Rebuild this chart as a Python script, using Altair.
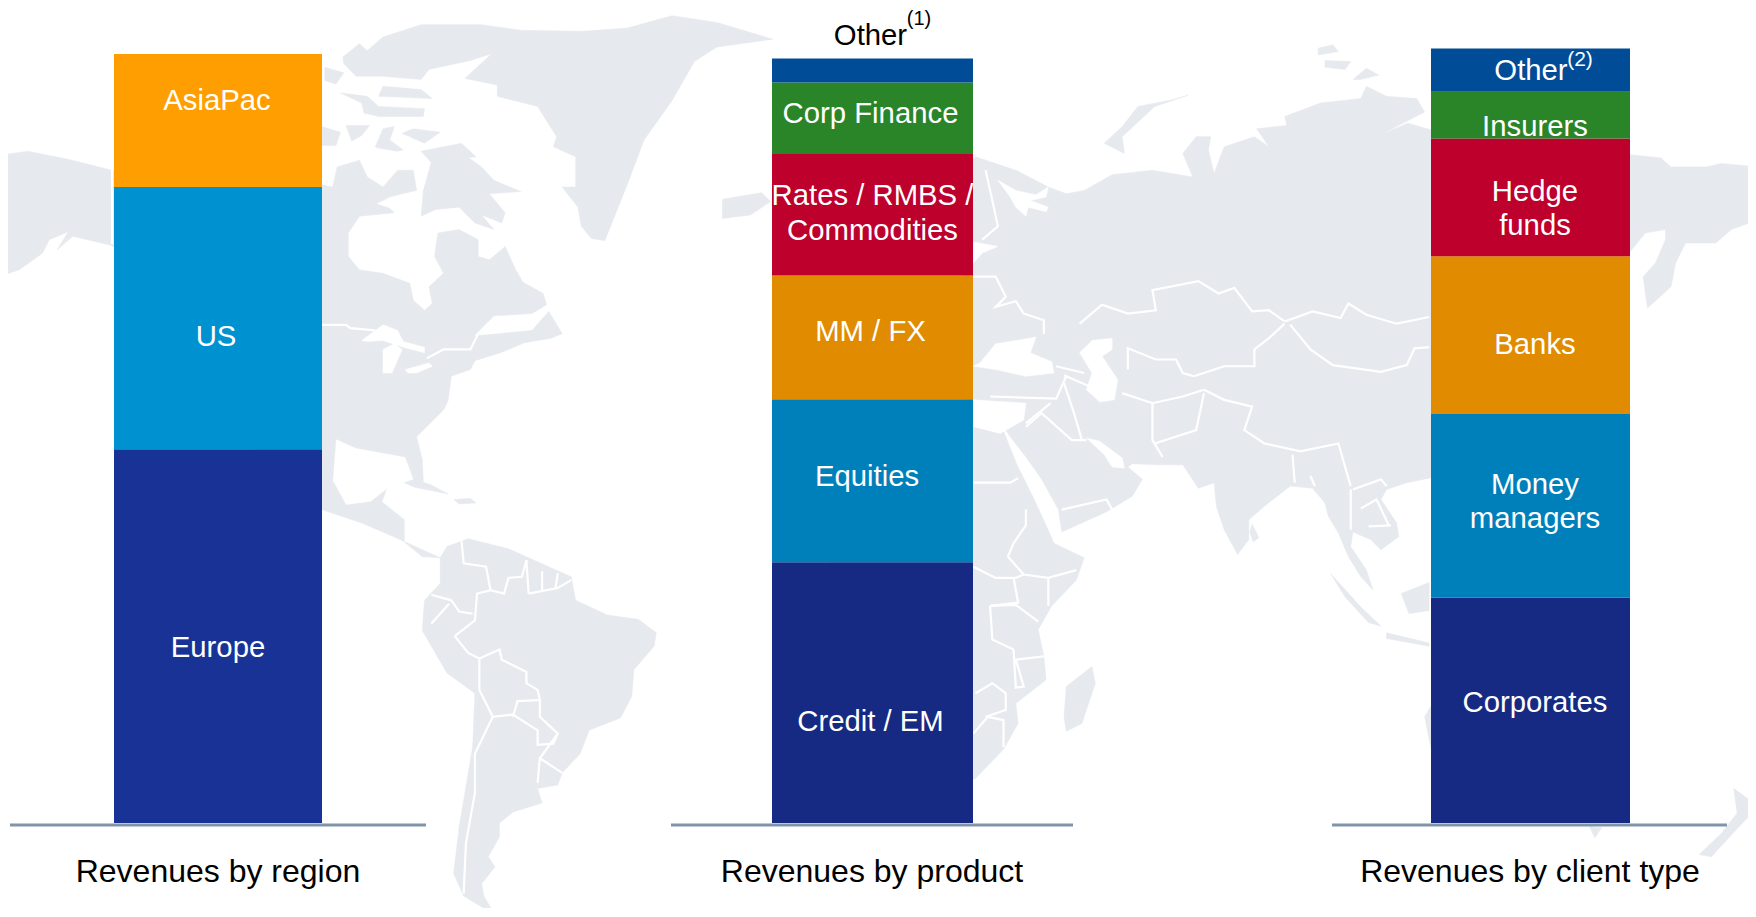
import altair as alt
import pandas as pd

# ---------- chart values ----------
region_names = ["Europe", "US", "AsiaPac"]
region_vals = [48.6, 34.1, 17.3]
region_cols = ["#193296", "#0091D0", "#FF9E00"]

product_names = ["Credit / EM", "Equities", "MM / FX", "Rates / RMBS / Commodities", "Corp Finance", "Other"]
product_vals = [33.9, 21.2, 16.1, 15.8, 9.3, 3.1]

client_names = ["Corporates", "Money managers", "Banks", "Hedge funds", "Insurers", "Other"]
client_vals = [29.3, 23.9, 20.5, 15.3, 6.1, 5.6]

shared_cols = ["#162A83", "#0080BA", "#E08B00", "#BE002C", "#2A8529", "#004C97"]
titles = ["Revenues by region", "Revenues by product", "Revenues by client type"]

# ---------- background map outline ----------
north_america = [(-10,140),(25,135),(60,142),(100,152),(140,150),(200,150),(287,165),(297,167),(301,149),(321,143),(328,158),(342,167),(355,152),(369,152),(372,170),(359,173),(348,176),(336,182),(348,186),(352,190),(321,193),(311,208),(311,229),(321,241),(342,244),(366,253),(369,268),(379,277),(386,271),(383,256),(396,244),(388,229),(391,208),(410,205),(427,214),(427,229),(437,232),(451,220),(460,240),(467,252),(485,262),(488,272),(475,280),(441,282),(423,300),(445,298),(475,295),(490,278),(502,298),(492,302),(468,306),(447,315),(424,322),(420,330),(403,336),(400,358),(396,366),(372,390),(377,410),(378,430),(370,430),(362,408),(345,405),(318,400),(300,392),(297,429),(309,451),(331,448),(345,437),(341,448),(361,464),(361,484),(377,497),(393,498),(351,479),(323,467),(287,455),(200,380),(130,240),(99,219),(65,211),(51,223),(61,207),(44,214),(38,226),(17,241),(-10,250)]
greenland = [(328,45),(342,33),(376,22),(430,22),(465,27),(520,28),(560,25),(600,14),(640,20),(690,35),(640,42),(620,55),(600,90),(575,125),(560,165),(540,215),(528,213),(519,202),(516,185),(502,167),(514,167),(514,140),(494,131),(497,122),(480,95),(444,86),(444,76),(415,70),(439,48),(420,54),(383,62),(376,71),(342,68)]
baffin = [(385,145),(417,140),(430,149),(441,161),(465,171),(437,173),(451,190),(448,199),(430,192),(441,205),(424,199),(410,185),(389,187),(376,193),(378,170)]
arctic_a = [(304,83),(328,86),(338,95),(379,97),(378,104),(338,104),(325,101),(323,92)]
arctic_b = [(309,112),(330,112),(323,121),(314,126)]
arctic_c = [(335,131),(342,115),(352,113),(348,125),(360,134),(354,135),(337,132)]
arctic_d = [(359,119),(369,115),(393,118),(379,128)]
arctic_e = [(287,113),(304,118),(300,130),(287,130)]
arctic_f = [(290,60),(307,65),(300,75),(290,72)]
arctic_g = [(306,51),(321,39),(331,48),(343,54),(342,68),(318,68),(307,57)]
arctic_h = [(342,77),(376,80),(386,88),(338,86)]
arctic_i = [(376,135),(412,128),(425,140),(385,145)]
cuba = [(361,431),(370,428),(385,433),(400,441),(385,438),(370,435)]
hispaniola = [(405,446),(420,445),(425,449),(410,450)]
south_america = [(393,498),(399,488),(418,481),(454,490),(510,515),(514,536),(542,549),(570,553),(586,565),(584,577),(566,598),(564,622),(554,641),(526,652),(518,673),(502,690),(498,701),(480,704),(484,717),(458,725),(446,735),(446,747),(436,765),(442,774),(430,789),(432,800),(442,817),(414,800),(405,780),(410,738),(422,667),(424,619),(399,601),(377,563),(379,536),(393,521),(393,503)]
eurasia = [(860,150),(871,140),(907,152),(936,167),(952,173),(968,170),(993,156),(1029,152),(1065,158),(1056,137),(1068,122),(1081,122),(1079,134),(1084,155),(1093,131),(1120,122),(1133,131),(1122,115),(1149,112),(1147,104),(1179,92),(1215,88),(1220,77),(1238,86),(1265,88),(1272,100),(1233,120),(1257,110),(1278,116),(1300,120),(1454,138),(1483,141),(1492,149),(1523,149),(1537,146),(1570,149),(1570,196),(1546,205),(1532,217),(1505,217),(1496,235),(1492,256),(1471,275),(1467,247),(1478,235),(1487,214),(1487,205),(1469,208),(1457,223),(1440,240),(1420,290),(1400,350),(1340,400),(1276,427),(1256,431),(1238,437),(1233,446),(1247,467),(1249,479),(1233,491),(1224,482),(1208,475),(1206,488),(1220,509),(1226,527),(1215,515),(1204,497),(1195,476),(1186,461),(1183,449),(1172,436),(1152,434),(1129,452),(1115,464),(1115,482),(1105,495),(1093,473),(1086,452),(1084,431),(1070,436),(1056,415),(1034,415),(1011,414),(1007,417),(1020,428),(1011,443),(988,457),(948,475),(945,455),(930,428),(916,408),(902,390),(896,381),(905,365),(860,360)]
africa = [(860,382),(885,380),(896,385),(908,415),(923,445),(938,478),(941,485),(968,498),(961,518),(939,541),(927,562),(932,586),(934,607),(907,628),(909,646),(896,669),(871,695),(860,700),(780,660),(740,500),(700,450),(700,380),(780,370)]
madagascar = [(975,595),(978,610),(966,646),(952,653),(950,640),(952,613)]
iceland = [(645,178),(680,172),(688,180),(670,192),(645,195)]
novaya = [(1061,85),(1047,89),(1016,95),(1002,113),(986,128),(1004,137),(1002,122),(1031,95)]
isle_a = [(1177,43),(1190,40),(1195,46),(1177,49)]
isle_b = [(1183,54),(1206,55),(1201,62),(1183,60)]
isle_c = [(1208,71),(1220,61),(1231,67),(1215,71)]
sumatra = [(1188,512),(1215,542),(1233,559),(1222,556),(1201,533)]
java = [(1238,565),(1276,574),(1276,577),(1238,570)]
borneo = [(1251,530),(1276,520),(1276,545),(1258,548)]
sri_lanka = [(1118,468),(1124,480),(1119,484),(1116,475)]
australia_edge = [(1272,640),(1278,630),(1278,670)]
tasmania = [(1419,738),(1430,739),(1424,748)]
new_zealand = [(1548,704),(1570,720),(1550,741),(1528,765),(1517,763),(1537,744),(1551,726)]
land = [north_america, greenland, baffin, arctic_a, arctic_b, arctic_c, arctic_d, arctic_e, arctic_f,
        arctic_g, arctic_h, arctic_i, cuba, hispaniola,
        south_america, eurasia, africa, madagascar, iceland, novaya, isle_a, isle_b, isle_c,
        sumatra, java, borneo, sri_lanka, australia_edge, tasmania, new_zealand]

caspian = [(964,315),(975,304),(993,302),(993,312),(984,318),(998,339),(995,357),(982,359),(970,348),(975,333)]
black_sea = [(875,324),(889,307),(907,304),(925,301),(920,315),(939,323),(941,333),(916,336),(889,330),(869,327)]
mediterranean = [(869,357),(916,360),(914,375),(893,387),(869,381)]
white_sea = [(891,161),(907,170),(925,174),(936,167),(934,176),(920,179),(936,185),(934,189),(918,185),(916,193),(907,185),(902,176)]
baltic = [(869,216),(891,220),(877,226),(869,235)]
persian_gulf = [(970,391),(986,406),(993,417),(1004,418),(1002,409),(982,394)]
lake_superior = [(323,304),(342,290),(355,295),(360,305),(379,310),(379,315),(360,310),(342,304),(328,305)]
lake_michigan = [(342,312),(352,307),(359,312),(350,333),(342,333)]
lake_huron = [(362,330),(383,324),(386,327),(372,333),(364,333)]
water = [caspian, black_sea, mediterranean, white_sea, baltic, persian_gulf, lake_superior, lake_michigan, lake_huron]

borders = [
    [(100,148),(100,218)],
    [(287,290),(309,290),(313,293),(335,295)],
    [(381,320),(396,312),(420,312),(427,298)],
    [(964,289),(984,272),(1007,280),(1032,277),(1029,259),(1070,251),(1088,262),(1102,257),(1118,278),(1133,277),(1147,287)],
    [(1147,287),(1172,278),(1197,284),(1204,271),(1220,281),(1247,289),(1276,283)],
    [(1152,290),(1170,312),(1190,326),(1233,332),(1256,326),(1263,311),(1276,310)],
    [(1147,289),(1134,301),(1120,312),(1120,327),(1093,327),(1066,336)],
    [(1007,330),(1007,311),(1032,321),(1050,321),(1056,333),(1066,336)],
    [(1002,351),(1029,360),(1056,354),(1075,348)],
    [(1029,360),(1029,393),(1038,408)],
    [(1075,348),(1093,357),(1118,363),(1111,384),(1129,396),(1161,403),(1195,396),(1201,417),(1206,434)],
    [(1075,351),(1068,384),(1031,396)],
    [(950,342),(959,369),(966,393)],
    [(884,354),(943,356),(952,336)],
    [(916,378),(938,360)],
    [(916,381),(930,369),(957,393),(970,393)],
    [(943,327),(968,333)],
    [(950,335),(973,345)],
    [(1154,406),(1156,431)],
    [(1170,425),(1174,434)],
    [(1206,437),(1206,473)],
    [(1208,437),(1233,428),(1238,434)],
    [(1215,454),(1229,446),(1240,469)],
    [(1222,470),(1242,469)],
    [(869,247),(889,247),(898,265),(889,274),(907,269),(914,280),(932,286),(932,298)],
    [(880,152),(886,179),(891,202),(877,214)],
    [(948,455),(988,446),(993,455)],
    [(869,431),(902,431),(909,427)],
    [(916,455),(916,469),(905,485),(900,497),(914,513),(936,516),(961,509)],
    [(869,506),(889,516),(907,516),(914,513)],
    [(936,516),(936,541)],
    [(905,516),(909,538),(884,541)],
    [(884,541),(907,540),(927,555)],
    [(884,541),(886,571),(905,580)],
    [(932,586),(907,589),(914,613),(907,614),(905,580)],
    [(871,619),(886,610),(898,619),(898,634),(880,640)],
    [(869,655),(882,640),(896,643),(896,667)],
    [(412,482),(414,503),(434,506),(438,527)],
    [(438,527),(426,530),(424,554),(406,568)],
    [(385,531),(403,536),(410,546),(422,548)],
    [(385,557),(401,539)],
    [(406,568),(418,583),(428,588)],
    [(428,588),(446,580),(448,589),(470,600),(470,610),(480,616),(482,625),(462,626),(458,640)],
    [(428,588),(428,616),(440,640)],
    [(440,640),(458,638),(480,652),(480,665),(494,664),(498,655),(482,640),(482,625)],
    [(440,640),(424,673),(424,708),(416,753),(414,798)],
    [(498,655),(482,677),(480,699)],
    [(482,677),(502,690)],
    [(470,500),(472,530)],
    [(484,510),(484,527)],
    [(498,512),(496,525)],
    [(438,527),(450,530),(454,516),(466,515),(470,500)],
    [(472,530),(498,525),(510,518)],
]

# ---------- layout (page pixels) ----------
PAGE_X = [8, 1748]
BASE_Y = 823
PX_PER_UNIT = 7.69
PLOT_W, PLOT_H = 1740, 900
Y_DOMAIN = [(BASE_Y - (8 + PLOT_H)) / PX_PER_UNIT, (BASE_Y - 8) / PX_PER_UNIT]
def val_y(page_y):
    return (BASE_Y - page_y) / PX_PER_UNIT

BAR_X = [(114, 322), (772, 973), (1431, 1630)]
RULE_X = [(10, 426), (671, 1073), (1332, 1727)]
TITLE_X = [218, 872, 1530]
TITLE_Y = 872

white_labels = [
    ("AsiaPac", 217, 101), ("US", 216, 337), ("Europe", 218, 648),
    ("Corp Finance", 870.5, 114), ("Rates / RMBS /", 872.5, 196), ("Commodities", 872.5, 231),
    ("MM / FX", 870.5, 332), ("Equities", 867, 477), ("Credit / EM", 870.5, 722),
    ("Other", 1531, 71), ("Insurers", 1535, 127), ("Hedge", 1535, 192), ("funds", 1535, 226),
    ("Banks", 1535, 345), ("Money", 1535, 484.5), ("managers", 1535, 519), ("Corporates", 1535, 702.5),
]
black_labels = [("Other", 870.5, 35.5)]
black_sup = [("(1)", 919, 19)]
white_sup = [("(2)", 1580, 60)]

# ---------- frames ----------
rows = []
for (x0, x1), vals, cols in zip(BAR_X, [region_vals, product_vals, client_vals],
                                [region_cols, shared_cols, shared_cols]):
    base = 0.0
    for v, c in zip(vals, cols):
        rows.append(dict(x0=x0, x1=x1, y0=base, y1=base + v, c=c))
        base += v
bars_df = pd.DataFrame(rows)
rules_df = pd.DataFrame([dict(x0=a, x1=b, y=0.0) for a, b in RULE_X])

def text_df(items):
    return pd.DataFrame([dict(t=t, x=x, y=val_y(y)) for t, x, y in items])

def ring_features(rings):
    return [{"type": "Feature", "properties": {},
             "geometry": {"type": "Polygon", "coordinates": [[list(p) for p in r] + [list(r[0])]]}} for r in rings]

def line_features(lines):
    return [{"type": "Feature", "properties": {},
             "geometry": {"type": "LineString", "coordinates": [list(p) for p in l]}} for l in lines]

X = alt.Scale(domain=PAGE_X, nice=False, zero=False)
Y = alt.Scale(domain=Y_DOMAIN, nice=False, zero=False)
proj = dict(type="identity", scale=1.12, translate=[-8, -8])

land_layer = alt.Chart(alt.Data(values=ring_features(land))).mark_geoshape(
    fill="#E6E9EE", stroke="#E6E9EE", strokeWidth=0.5).project(**proj)
water_layer = alt.Chart(alt.Data(values=ring_features(water))).mark_geoshape(
    fill="#FFFFFF", stroke="#FFFFFF", strokeWidth=0.5).project(**proj)
border_layer = alt.Chart(alt.Data(values=line_features(borders))).mark_geoshape(
    filled=False, stroke="#FFFFFF", strokeWidth=2.2).project(**proj)

rule_layer = alt.Chart(rules_df).mark_rule(color="#8094AA", strokeWidth=3, yOffset=2).encode(
    x=alt.X("x0:Q", scale=X, axis=None), x2="x1:Q", y=alt.Y("y:Q", scale=Y, axis=None))
bar_layer = alt.Chart(bars_df).mark_rect().encode(
    x=alt.X("x0:Q", scale=X, axis=None), x2="x1:Q",
    y=alt.Y("y0:Q", scale=Y, axis=None), y2="y1:Q",
    color=alt.Color("c:N", scale=None, legend=None))

def text_layer(items, size, color):
    return alt.Chart(text_df(items)).mark_text(
        font="Liberation Sans", fontSize=size, color=color, baseline="middle", align="center").encode(
        x=alt.X("x:Q", scale=X, axis=None), y=alt.Y("y:Q", scale=Y, axis=None), text="t:N")

chart = alt.layer(
    land_layer, water_layer, border_layer, rule_layer, bar_layer,
    text_layer(white_labels, 29.3, "#FFFFFF"),
    text_layer(black_labels, 29.3, "#000000"),
    text_layer(black_sup, 20, "#000000"),
    text_layer(white_sup, 21, "#FFFFFF"),
    text_layer([(t, x, TITLE_Y) for t, x in zip(titles, TITLE_X)], 32, "#000000"),
).properties(width=PLOT_W, height=PLOT_H, padding=0, background="#FFFFFF",
             autosize=alt.AutoSizeParams(type="none")).configure_view(stroke=None)

chart.save("out.html", embed_options={"renderer": "svg", "actions": False})
